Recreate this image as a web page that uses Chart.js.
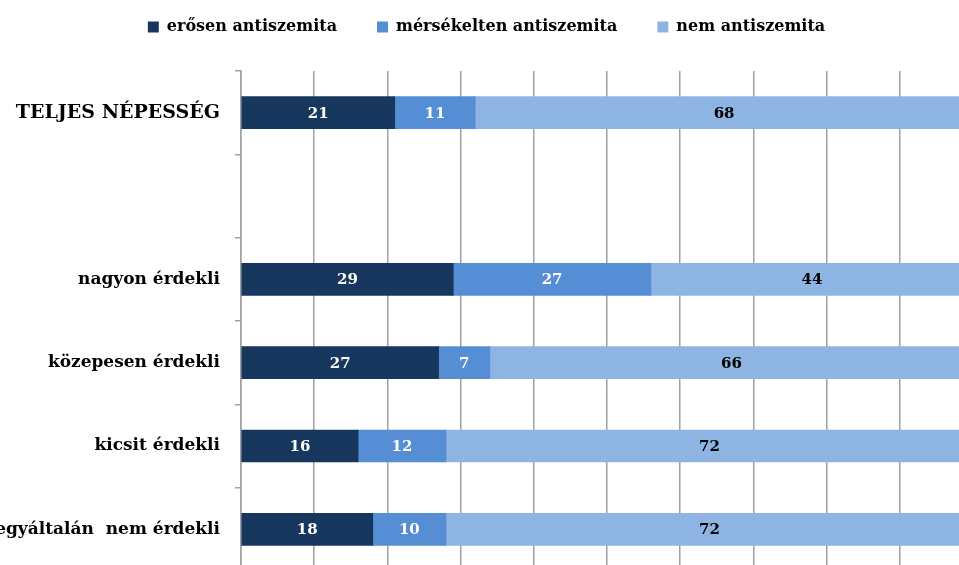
<!DOCTYPE html>
<html>
<head>
<meta charset="utf-8">
<script src="https://cdn.jsdelivr.net/npm/chart.js@4"></script>
<style>
    body { margin: 0; overflow: hidden; background: #fff; }
    #wrap { width: 980px; height: 596px; margin-top: -21px; }
</style>
</head>
<body>
<div id="wrap"><canvas id="antiChart" width="980" height="596"></canvas></div>
<script>
// Categories (the empty one is the gap under the total)
const categories = ['TELJES NÉPESSÉG', '', 'nagyon érdekli', 'közepesen érdekli', 'kicsit érdekli', 'egyáltalán  nem érdekli'];

// Series values (%)
const erosen = [21, null, 29, 27, 16, 18];
const mersekelten = [11, null, 27, 7, 12, 10];
const nemAnti = [68, null, 44, 66, 72, 72];

const seriesNames = ['erősen antiszemita', 'mérsékelten antiszemita', 'nem antiszemita'];

// Colors
const colors = {
    dark: '#17375E',
    mid: '#558ED5',
    light: '#8EB4E3',
    grid: '#a0a0a0'
};

const serif = "'DejaVu Serif', 'Liberation Serif', serif";

// Value labels in the middle of each bar segment
const barLabels = {
    id: 'barLabels',
    afterDatasetsDraw(chart, args, opts) {
        const ctx = chart.ctx;
        ctx.save();
        ctx.font = `bold 15px ${serif}`;
        ctx.textAlign = 'center';
        ctx.textBaseline = 'middle';
        chart.data.datasets.forEach((ds, i) => {
            const meta = chart.getDatasetMeta(i);
            ctx.fillStyle = opts.colors[i];
            meta.data.forEach((bar, j) => {
                const v = ds.data[j];
                if (v == null) return;
                const p = bar.getCenterPoint();
                ctx.fillText(String(v), p.x, p.y + 1);
            });
        });
        ctx.restore();
    }
};

new Chart(document.getElementById('antiChart'), {
    type: 'bar',
    data: {
        labels: categories,
        datasets: [
            { label: seriesNames[0], data: erosen, backgroundColor: colors.dark },
            { label: seriesNames[1], data: mersekelten, backgroundColor: colors.mid },
            { label: seriesNames[2], data: nemAnti, backgroundColor: colors.light }
        ]
    },
    options: {
        indexAxis: 'y',
        responsive: false,
        animation: false,
        barThickness: 32,
        layout: { padding: { top: 0, right: 7, bottom: 4, left: 0 } },
        scales: {
            x: {
                position: 'top',
                stacked: true,
                min: 0,
                max: 100,
                afterFit: scale => { scale.height = 26; },
                ticks: { display: false, stepSize: 10 },
                grid: { color: colors.grid, lineWidth: 1.5, drawTicks: false },
                border: { display: false }
            },
            y: {
                stacked: true,
                afterFit: scale => {
                    scale.width = 241;
                    scale.paddingTop = 0;
                    scale.paddingBottom = 0;
                },
                ticks: {
                    padding: 15,
                    color: '#000',
                    font: ctx => ({
                        family: serif,
                        weight: 'bold',
                        size: ctx.index === 0 ? 19 : 17
                    })
                },
                grid: { color: colors.grid, lineWidth: 1.5, drawOnChartArea: false, tickLength: 6 },
                border: { color: colors.grid, width: 1.5 }
            }
        },
        plugins: {
            legend: {
                position: 'top',
                labels: {
                    boxWidth: 11,
                    boxHeight: 11,
                    padding: 40,
                    color: '#000',
                    font: { family: serif, weight: 'bold', size: 16 }
                }
            },
            tooltip: { enabled: false },
            barLabels: { colors: ['#fff', '#fff', '#000'] }
        }
    },
    plugins: [barLabels]
});
</script>
</body>
</html>
